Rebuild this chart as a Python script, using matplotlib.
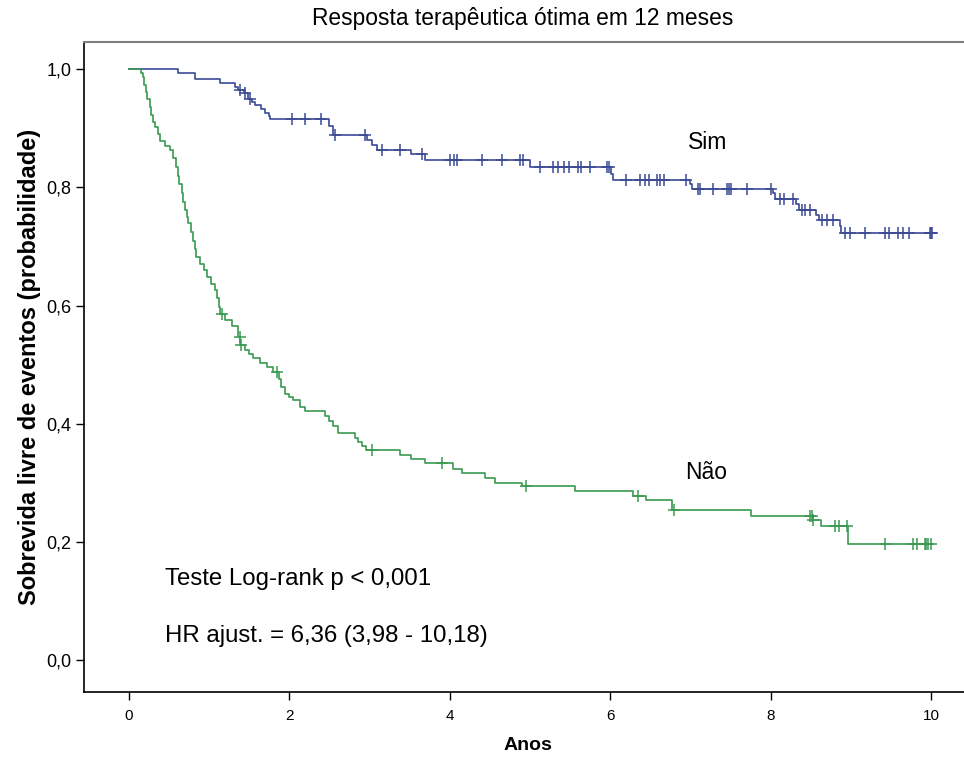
import numpy as np
import matplotlib
matplotlib.use("Agg")
import matplotlib.pyplot as plt

plt.rcParams['font.family'] = ['Liberation Sans', 'DejaVu Sans']

# ---- data ----
title = "Resposta terapêutica ótima em 12 meses"
xlabel = "Anos"
ylabel = "Sobrevida livre de eventos (probabilidade)"
xticks = [0, 2, 4, 6, 8, 10]
yticks = [0.0, 0.2, 0.4, 0.6, 0.8, 1.0]
ytick_labels = ["0,0", "0,2", "0,4", "0,6", "0,8", "1,0"]

sim_times = [0.00, 0.61, 0.82, 1.13, 1.32, 1.36, 1.43, 1.49, 1.53, 1.57, 1.65, 1.70, 1.74,
             1.76, 2.50, 2.55, 2.97, 3.03, 3.09, 3.52, 3.69, 5.00, 6.01, 6.03, 6.99, 7.02,
             8.03, 8.06, 8.32, 8.35, 8.57, 8.60, 8.86, 8.88]
sim_surv = [1.000, 0.993, 0.984, 0.977, 0.970, 0.964, 0.959, 0.950, 0.945, 0.939, 0.933, 0.925, 0.920,
            0.916, 0.903, 0.889, 0.880, 0.872, 0.864, 0.857, 0.846, 0.835, 0.823, 0.812, 0.805, 0.798,
            0.790, 0.781, 0.772, 0.762, 0.753, 0.745, 0.734, 0.723]
sim_end = 10.01
sim_censor = [1.39, 1.45, 1.51, 2.03, 2.19, 2.40, 2.57, 2.94, 3.15, 3.38, 3.65, 4.00, 4.05, 4.09,
              4.40, 4.65, 4.88, 4.91, 5.12, 5.29, 5.35, 5.42, 5.48, 5.60, 5.63, 5.75, 5.96, 5.98,
              6.20, 6.37, 6.43, 6.48, 6.58, 6.62, 6.67, 6.95, 7.10, 7.12, 7.28, 7.45, 7.48, 7.51,
              7.71, 8.01, 8.12, 8.16, 8.28, 8.39, 8.43, 8.49, 8.64, 8.70, 8.78, 8.93, 8.99, 9.18,
              9.43, 9.47, 9.59, 9.65, 9.72, 9.99, 10.00, 10.01]

nao_times = [0.00, 0.15, 0.17, 0.19, 0.21, 0.23, 0.26, 0.28, 0.30, 0.32, 0.36, 0.39, 0.45, 0.51,
             0.55, 0.59, 0.61, 0.63, 0.66, 0.68, 0.70, 0.72, 0.74, 0.77, 0.80, 0.82, 0.84, 0.88,
             0.93, 0.97, 1.02, 1.07, 1.10, 1.12, 1.14, 1.20, 1.28, 1.36, 1.39, 1.45, 1.50, 1.55,
             1.63, 1.72, 1.80, 1.87, 1.89, 1.94, 2.00, 2.05, 2.13, 2.20, 2.45, 2.50, 2.55, 2.61,
             2.82, 2.86, 2.91, 2.96, 3.38, 3.52, 3.69, 4.04, 4.15, 4.44, 4.56, 4.90, 5.56, 6.29,
             6.44, 6.77, 7.76, 8.53, 8.63, 8.97]
nao_surv = [1.000, 0.993, 0.987, 0.974, 0.962, 0.949, 0.936, 0.923, 0.911, 0.902, 0.890, 0.879, 0.870, 0.863,
            0.850, 0.835, 0.820, 0.805, 0.790, 0.775, 0.762, 0.750, 0.739, 0.725, 0.710, 0.696, 0.682, 0.670,
            0.660, 0.649, 0.637, 0.626, 0.612, 0.598, 0.585, 0.575, 0.566, 0.547, 0.533, 0.525, 0.518, 0.511,
            0.503, 0.496, 0.488, 0.475, 0.462, 0.451, 0.445, 0.440, 0.429, 0.421, 0.413, 0.405, 0.396, 0.385,
            0.375, 0.369, 0.362, 0.356, 0.347, 0.340, 0.333, 0.324, 0.316, 0.308, 0.300, 0.294, 0.286, 0.277,
            0.271, 0.254, 0.244, 0.237, 0.227, 0.196]
nao_end = 10.02
nao_censor = [1.16, 1.38, 1.40, 1.84, 3.03, 3.90, 4.95, 6.35, 6.79, 8.49, 8.51, 8.53, 8.80, 8.85,
              8.95, 9.43, 9.78, 9.82, 9.92, 9.94, 9.96, 10.00]

groups = ["Sim", "Não"]
colors = ["#3b4a94", "#3a9a52"]
annot1 = "Teste Log-rank p < 0,001"
annot2 = "HR ajust. = 6,36 (3,98 - 10,18)"

# ---- figure ----
fig = plt.figure(figsize=(9.64, 7.63), dpi=100)
ax = fig.add_axes([84/964, 1-692/763, 1-84/964, (692-42)/763])


def draw(times, surv, end, censor, color):
    t = np.array(times + [end])
    s = np.array(surv + [surv[-1]])
    ax.step(t, s, where='post', color=color, lw=1.2)
    idx = np.searchsorted(np.array(times), np.array(censor), side='right') - 1
    cy = np.array(surv)[idx]
    ax.plot(censor, cy, ls='none', marker='+', ms=9, mew=1.1, color=color)


draw(sim_times, sim_surv, sim_end, sim_censor, colors[0])
draw(nao_times, nao_surv, nao_end, nao_censor, colors[1])

ax.set_xlim(-0.56, 10.41)
ax.set_ylim(-0.054, 1.046)
ax.set_xticks(xticks)
ax.set_xticklabels([str(v) for v in xticks])
ax.set_yticks(yticks)
ax.set_yticklabels(ytick_labels)
ax.tick_params(direction='out', length=6, width=1, colors='black', pad=4)
ax.tick_params(axis='x', labelsize=11, pad=6)
ax.tick_params(axis='y', labelsize=13, pad=3)
ax.spines['right'].set_visible(False)
ax.spines['top'].set_color('#7f7f7f')
ax.spines['top'].set_linewidth(1.5)
ax.spines['left'].set_linewidth(1.2)
ax.spines['bottom'].set_linewidth(1.2)

ax.set_xlabel(xlabel, fontsize=14, fontweight='bold')
ax.xaxis.set_label_coords((528 - 84) / 880, (692 - 737) / 650)
ax.set_ylabel(ylabel, fontsize=17, fontweight='bold')
ax.yaxis.set_label_coords((41 - 84) / 880, (692 - 367) / 650)
fig.text(523 / 964, 1 - 18 / 763, title, ha='center', va='center', fontsize=16.4)

ax.text(7.22, 0.876, groups[0], fontsize=16.5, ha='center', va='center')
ax.text(7.20, 0.318, groups[1], fontsize=16.5, ha='center', va='center')
ax.text(0.45, 0.138, annot1, fontsize=17.3, ha='left', va='center')
ax.text(0.45, 0.040, annot2, fontsize=17.3, ha='left', va='center')

fig.savefig("out.png", dpi=100)
